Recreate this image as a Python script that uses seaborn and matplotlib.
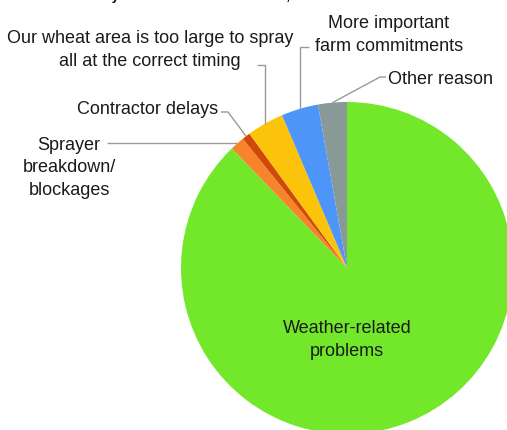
import numpy as np
import matplotlib
matplotlib.use("Agg")
import matplotlib.pyplot as plt
import seaborn as sns

# Share of respondents by main reason for spray delays (%)
reasons = [
    "Weather-related\nproblems",
    "Sprayer\nbreakdown/\nblockages",
    "Contractor delays",
    "Our wheat area is too large to spray\nall at the correct timing",
    "More important\nfarm commitments",
    "Other reason",
]
shares = [87.8, 1.4, 0.8, 3.6, 3.6, 2.8]
colors = ["#73e82a", "#f7832b", "#cf4a08", "#fcc30b", "#4d95f9", "#889998"]
title = "Where delays have occurred at T1 or T2, what was the main reason?"

sns.set_theme(style="white")
plt.rcParams["font.family"] = ["Liberation Sans", "DejaVu Sans"]

W, H, DPI = 507, 430, 100
fig = plt.figure(figsize=(W / DPI, H / DPI), dpi=DPI)
ax = fig.add_axes([0, 0, 1, 1])

# pie centre and radius in pixels; the axes map 1 data unit to R pixels
CX, CY, R = 347.0, 268.0, 166.0


def px(x, y):
    return (x - CX) / R, (CY - y) / R


wedges, _ = ax.pie(
    shares,
    colors=colors,
    startangle=90,
    counterclock=False,
    radius=1.0,
    center=(0, 0),
    wedgeprops=dict(linewidth=0),
)
ax.set_xlim(px(0, 0)[0], px(W, 0)[0])
ax.set_ylim(px(0, H)[1], px(0, 0)[1])
ax.set_aspect("equal")
ax.axis("off")


def anchor(w, r=1.0):
    a = np.deg2rad((w.theta1 + w.theta2) / 2)
    return r * np.cos(a), r * np.sin(a)


txt = dict(fontsize=13, color="#1a1a1a", linespacing=1.42)
line = dict(color="#9a9a9a", lw=1.0, solid_capstyle="butt")

# main slice label
ax.text(*px(347, 340), reasons[0], ha="center", va="center", **txt)

# Sprayer breakdown: horizontal leader to the left
a = anchor(wedges[1])
ax.plot([a[0], px(107, 0)[0]], [a[1], a[1]], **line)
ax.text(*px(69, 168), reasons[1], ha="center", va="center", **txt)

# Contractor delays: slanted leader
a = anchor(wedges[2])
p1, p2 = px(228, 112), px(221, 112)
ax.plot([a[0], p1[0], p2[0]], [a[1], p1[1], p2[1]], **line)
ax.text(*px(218, 110), reasons[2], ha="right", va="center", **txt)

# Wheat area: vertical leader then short elbow
a = anchor(wedges[3])
p1 = (a[0], px(0, 65)[1])
p2 = (px(257, 0)[0], p1[1])
ax.plot([a[0], p1[0], p2[0]], [a[1], p1[1], p2[1]], **line)
ax.text(*px(150, 50), reasons[3], ha="center", va="center", **txt)

# Farm commitments: vertical leader then short elbow
a = anchor(wedges[4])
p1 = (a[0], px(0, 47)[1])
p2 = (px(309, 0)[0], p1[1])
ax.plot([a[0], p1[0], p2[0]], [a[1], p1[1], p2[1]], **line)
ax.text(*px(389, 35), reasons[4], ha="center", va="center", **txt)

# Other reason: diagonal leader
a = anchor(wedges[5])
p1, p2 = px(380, 77), px(386, 77)
ax.plot([a[0], p1[0], p2[0]], [a[1], p1[1], p2[1]], **line)
ax.text(*px(388, 79), reasons[5], ha="left", va="center", **txt)

# chart title runs off the top edge
fig.text(43 / W, 1 + 8.5 / H, title, ha="left", va="top",
         fontsize=9.3, fontweight="bold", color="black")

fig.savefig("out.png", dpi=DPI)
